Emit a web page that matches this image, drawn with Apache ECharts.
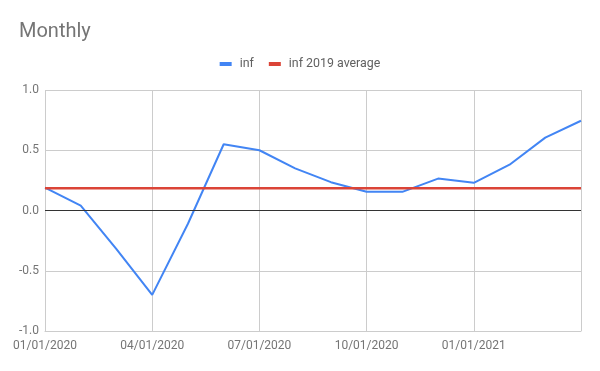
<!DOCTYPE html>
<html>
<head>
<meta charset="utf-8">
<script src="https://cdn.jsdelivr.net/npm/echarts@6/dist/echarts.min.js"></script>
<style>
html,body{margin:0;padding:0;background:#fff;}
#c{width:600px;height:371px;}
</style>
</head>
<body>
<div id="c"></div>
<script>
var months = ['01/01/2020','02/01/2020','03/01/2020','04/01/2020','05/01/2020','06/01/2020','07/01/2020','08/01/2020','09/01/2020','10/01/2020','11/01/2020','12/01/2020','01/01/2021','02/01/2021','03/01/2021','04/01/2021'];
var inf = [0.19, 0.04, -0.32, -0.70, -0.11, 0.55, 0.50, 0.35, 0.235, 0.155, 0.155, 0.265, 0.23, 0.38, 0.605, 0.745];
var infAvg2019 = [0.185, 0.185, 0.185, 0.185, 0.185, 0.185, 0.185, 0.185, 0.185, 0.185, 0.185, 0.185, 0.185, 0.185, 0.185, 0.185];
var seriesNames = ['inf', 'inf 2019 average'];
var yTicks = {min: -1, max: 1, interval: 0.5};

var chart = echarts.init(document.getElementById('c'));
var font = 'Roboto, Arial, sans-serif';
chart.setOption({
  animation: false,
  backgroundColor: '#fff',
  title: {
    text: 'Monthly', left: 19, top: 22, padding: 0,
    textStyle: {fontFamily: font, fontSize: 20, fontWeight: 'normal', color: '#757575'}
  },
  legend: {
    top: 53, left: 'center',
    icon: 'rect', itemWidth: 12, itemHeight: 4, itemGap: 15,
    textStyle: {fontFamily: font, fontSize: 12.4, color: '#616161', padding: [0, 0, 0, 3]},
    data: seriesNames
  },
  grid: {left: 45, right: 19, top: 90, bottom: 40, containLabel: false},
  xAxis: {
    type: 'category', data: months, boundaryGap: false,
    axisLine: {onZero: false, lineStyle: {color: '#cccccc'}},
    axisTick: {show: false},
    axisLabel: {
      interval: 2, margin: 9, fontFamily: font, fontSize: 12, color: '#757575',
      formatter: function (v, i) { return i === months.length - 1 ? '' : v; }
    },
    splitLine: {show: true, interval: 2, lineStyle: {color: '#cccccc', width: 1}}
  },
  yAxis: {
    type: 'value', min: yTicks.min, max: yTicks.max, interval: yTicks.interval,
    axisLine: {show: false}, axisTick: {show: false},
    axisLabel: {margin: 6, fontFamily: font, fontSize: 12, color: '#757575',
      formatter: function (v) { return v.toFixed(1); }},
    splitLine: {lineStyle: {color: '#cccccc', width: 1}}
  },
  series: [
    {
      name: seriesNames[0], type: 'line', data: inf, showSymbol: false, symbol: 'none',
      lineStyle: {color: '#4285f4', width: 2}, itemStyle: {color: '#4285f4'},
      markLine: {
        silent: true, symbol: 'none', label: {show: false},
        lineStyle: {color: '#333333', width: 1, type: 'solid'},
        data: [{yAxis: 0}]
      },
      z: 2
    },
    {
      name: seriesNames[1], type: 'line', data: infAvg2019, showSymbol: false, symbol: 'none',
      lineStyle: {color: '#db4437', width: 2.5}, itemStyle: {color: '#db4437'},
      z: 3
    }
  ]
});
</script>
</body>
</html>
